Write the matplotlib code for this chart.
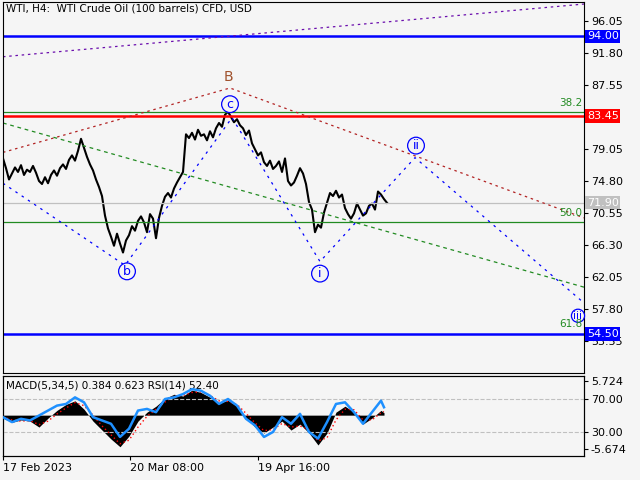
import matplotlib
matplotlib.use("Agg")
import matplotlib.pyplot as plt
import numpy as np

price = [77.8,76.5,75.0,75.8,76.6,76.0,76.9,75.6,76.3,
 76.0,76.8,75.9,74.8,74.4,75.3,74.5,75.6,76.2,75.5,
 76.5,77.0,76.4,77.6,78.2,77.5,78.8,80.4,79.2,78.0,
 77.0,76.2,75.0,74.0,72.8,70.2,68.5,67.4,66.2,67.8,
 66.5,65.3,66.9,67.6,68.8,68.2,69.5,70.1,69.3,68.0,
 70.4,69.8,67.2,69.9,71.5,72.7,73.2,72.6,73.8,74.6,
 75.3,76.0,81.0,80.5,81.2,80.3,81.6,80.8,81.0,80.2,
 81.4,80.6,81.8,82.5,82.0,83.6,84.0,83.3,82.6,83.0,
 82.2,81.8,80.9,81.5,79.8,79.0,78.2,78.6,77.3,76.8,
 77.5,76.4,76.8,77.4,76.0,77.8,74.8,74.2,74.6,75.5,
 76.5,75.8,74.4,72.0,71.0,68.0,69.0,68.6,70.6,71.9,
 73.2,72.8,73.5,72.6,73.0,71.2,70.4,69.8,70.5,71.8,
 71.0,70.2,70.5,71.5,71.8,71.0,73.4,73.0,72.4,71.9]
price_bar = list(range(3, 3 + 3*len(price), 3))

ind_bar = [3,12,21,30,39,48,57,66,75,84,93,102,111,120,129,138,147,156,165,174,183,192,201,210,219,228,237,246,255,264,273,282,291,300,309,318,327,336,345,354,363,372,381,384]
rsi = [48,42,46,44,50,56,62,64,72,66,48,44,40,24,34,56,58,54,70,72,76,82,80,74,64,70,62,46,38,24,30,48,40,52,30,22,42,64,66,54,40,54,68,60]
macd = [-0.5,-1.2,-0.8,-1.0,-2.0,-0.5,0.8,1.8,2.4,1.0,-1.0,-2.5,-4.0,-5.3,-3.5,-1.0,0.5,1.5,2.8,3.5,3.2,4.2,3.8,3.0,2.0,2.5,1.5,-0.5,-2.0,-3.0,-2.0,-1.0,-2.5,-1.5,-3.0,-5.0,-3.0,0.5,1.5,0.5,-1.5,-0.5,0.8,0.4]
signal = [-0.3,-0.8,-1.0,-0.9,-1.6,-1.0,0.2,1.2,2.1,1.6,0.0,-1.8,-3.3,-4.8,-4.2,-2.0,-0.2,1.0,2.2,3.2,3.3,3.8,3.9,3.3,2.4,2.3,1.8,0.3,-1.3,-2.6,-2.4,-1.4,-2.0,-1.8,-2.5,-4.3,-3.8,-0.8,1.0,0.9,-0.8,-0.8,0.4,0.6]

wave_bar = [3,125,232,320,415,584]
wave_px = [74.5,63.6,83.2,64.1,77.9,58.6]
xtick_bar = [3,130,258]
xtick_lab = ["17 Feb 2023","20 Mar 08:00","19 Apr 16:00"]
yticks = [96.05,91.80,87.55,79.05,74.80,70.55,66.30,62.05,57.80,53.55]

bg = "#f5f5f5"
fig = plt.figure(figsize=(6.4,4.8), dpi=100, facecolor=bg)
ax = fig.add_axes([3/640, 107/480, 581/640, 371/480], facecolor=bg)
ax.set_xlim(3,584); ax.set_ylim(49.3,98.57)
ax.plot(price_bar, price, color="black", lw=1.5)
ax.axhline(94.0, color="#0000ff", lw=1.8)
ax.axhline(54.5, color="#0000ff", lw=1.8)
ax.axhline(83.9, color="#228b22", lw=0.9)
ax.axhline(83.45, color="#ff0000", lw=1.8)
ax.axhline(69.3, color="#228b22", lw=0.9)
ax.axhline(71.9, color="#c0c0c0", lw=0.9)
ax.plot([3,584],[91.3,98.3], color="#6a0dad", ls=(0,(2,3)), lw=0.9)
ax.plot([3,230,584],[78.6,87.15,69.9], color="#b22222", ls=(0,(2,3)), lw=0.9)
ax.plot([3,584],[82.5,60.7], color="#228b22", ls=(0,(3,3)), lw=0.9)
ax.plot(wave_bar, wave_px, color="#0000ff", ls=(0,(2,4)), lw=0.9)
circ = dict(boxstyle="circle,pad=0.15", fc=bg, ec="#0000ff", lw=0.9)
for bx, py, t in [(230,85.0,"c"),(127,62.8,"b"),(320,62.5,"i"),(416,79.5,"ii"),(578,56.9,"iii")]:
    ax.text(bx, py, t, color="#0000ff", fontsize=9 if len(t) < 3 else 7.5, ha="center", va="center", bbox=circ)
ax.text(228,88.6,"B", color="#a0522d", fontsize=10, ha="center", va="center")
for py, t in [(84.5,"38.2"),(69.9,"50.0"),(55.1,"61.8")]:
    ax.text(582,py,t,color="#228b22",fontsize=7.5,ha="right",va="bottom")
ax.text(0.005,0.995,"WTI, H4:  WTI Crude Oil (100 barrels) CFD, USD",transform=ax.transAxes,fontsize=7.5,va="top")
ax.yaxis.tick_right()
ax.set_yticks(yticks); ax.set_yticklabels([f"{v:.2f}" for v in yticks], fontsize=8)
ax.set_xticks([])
ax.tick_params(axis="y", length=3, pad=2)
for py, t, c, tc in [(94.0,"94.00","#0000ff","white"),(83.45,"83.45","#ff0000","white"),(71.9,"71.90","#c0c0c0","white"),(54.5,"54.50","#0000ff","white")]:
    ax.text(1.005, (py-49.3)/(98.57-49.3), t, transform=ax.transAxes, color=tc, fontsize=8, va="center", ha="left",
            bbox=dict(boxstyle="square,pad=0.15", fc=c, ec="none"), zorder=5)

ax2 = fig.add_axes([3/640, 24/480, 581/640, 80/480], facecolor=bg)
ax2.set_xlim(3,584); ax2.set_ylim(0.9,97.9)
ax2.axhline(70, color="#c0c0c0", ls="--", lw=0.8)
ax2.axhline(30, color="#c0c0c0", ls="--", lw=0.8)
ax3 = ax2.twinx()
ax3.set_ylim(-5.674-(456-449)*0.1676, 5.724+(381-376)*0.1676)
ax3.fill_between(ind_bar, macd, 0, color="black", lw=0)
ax3.plot(ind_bar, signal, color="red", ls=(0,(1,2)), lw=1)
ax3.set_yticks([])
ax2.plot(ind_bar, rsi, color="#1e90ff", lw=1.8, zorder=4)
ax2.set_zorder(ax3.get_zorder()+1); ax2.patch.set_visible(False)
ax2.yaxis.tick_right()
ax2.set_yticks([91.8,70,30,9.4]); ax2.set_yticklabels(["5.724","70.00","30.00","-5.674"], fontsize=8)
ax2.set_xticks(xtick_bar); ax2.set_xticklabels(xtick_lab, fontsize=8, ha="left")
ax2.tick_params(length=3, pad=2)
ax2.text(0.005,0.95,"MACD(5,34,5) 0.384 0.623 RSI(14) 52.40",transform=ax2.transAxes,fontsize=7.5,va="top")
fig.savefig("out.png", dpi=100, facecolor=bg)
